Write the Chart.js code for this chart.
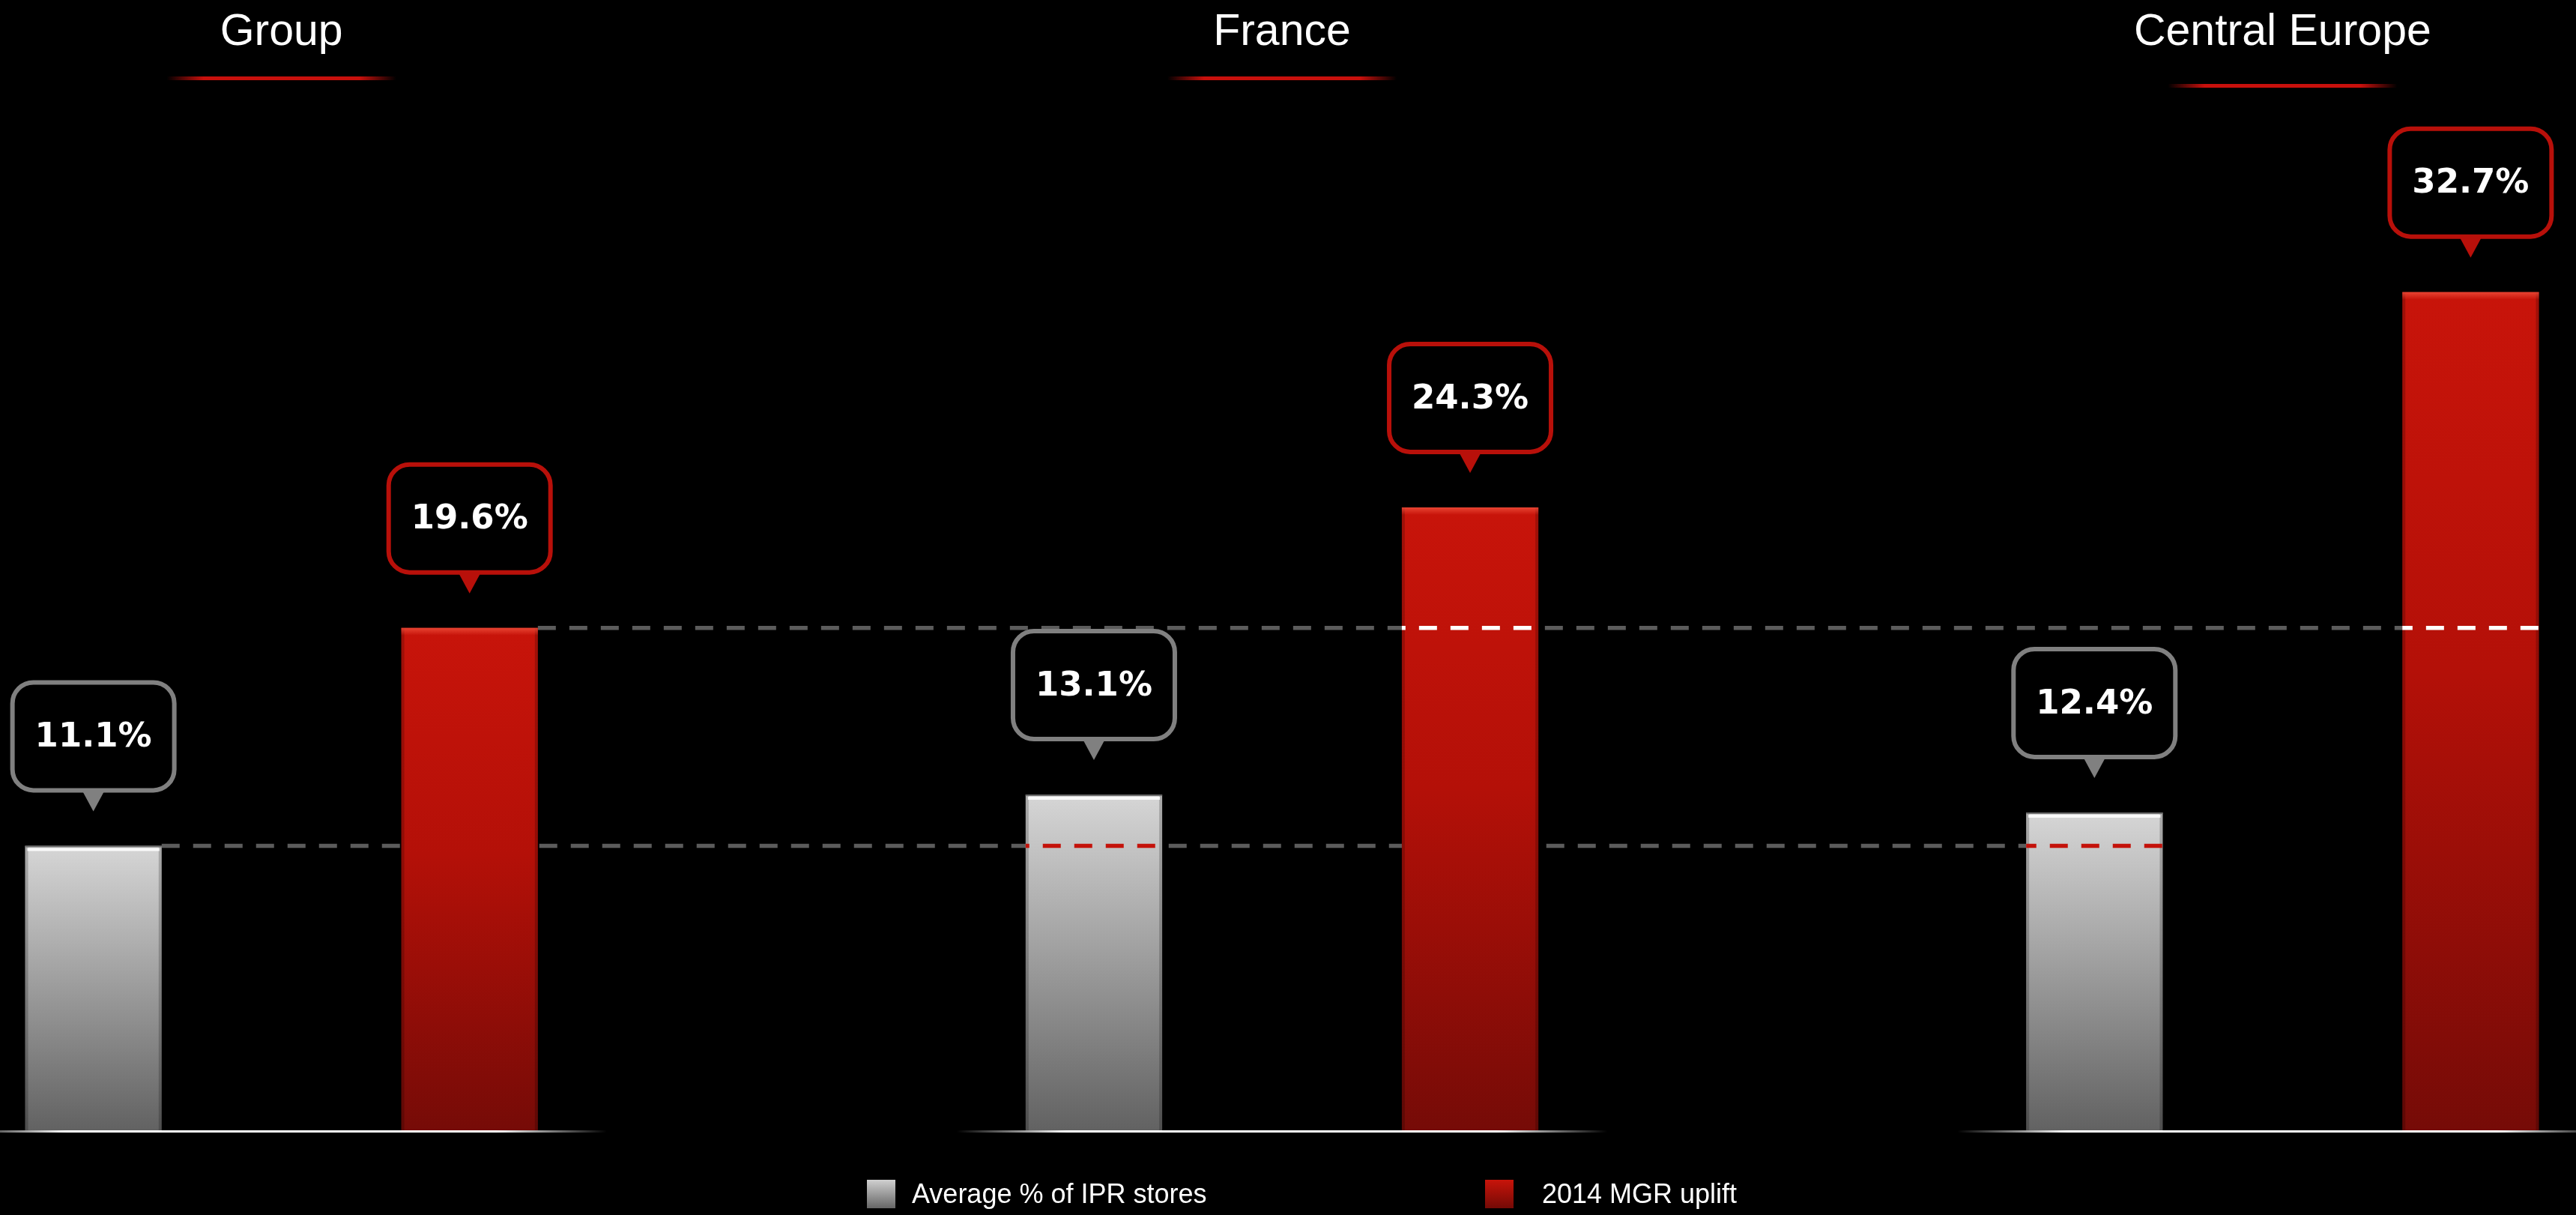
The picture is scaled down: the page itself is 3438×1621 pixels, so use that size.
<!DOCTYPE html>
<html>
<head>
<meta charset="utf-8">
<title>2014 MGR uplift</title>
<script src="https://cdn.jsdelivr.net/npm/chart.js@4.4.1/dist/chart.umd.min.js"></script>
<style>
  html, body { margin: 0; padding: 0; background: #000; overflow: hidden; }
  body { width: 3438px; height: 1621px; position: relative; }
  #chart { position: absolute; left: -292px; top: 0; }
  .legend-item { position: absolute; top: 1574px; display: flex; align-items: center; color: #fff;
    font-family: "Liberation Sans", Arial, sans-serif; font-size: 36px; line-height: 38px; white-space: nowrap; }
  .legend-box { width: 38px; height: 38px; display: inline-block; }
</style>
</head>
<body>
<canvas id="chart" width="4006" height="1621"></canvas>
<div id="legend"></div>
<script>
const regions = ["Group", "France", "Central Europe"]
const iprStores = [11.1, 13.1, 12.4]
const mgrUplift = [19.6, 24.3, 32.7]
const seriesNames = ["Average % of IPR stores", "2014 MGR uplift"]

// colours
const greyStops = [[0, "#d6d6d6"], [1, "#626262"]]
const redStops = [[0, "#c8140a"], [0.45, "#b41008"], [1, "#760b07"]]
const calloutColors = ["#808080", "#b8100a"]
const refOverlay = ["#c4120a", "#ffffff"]

function barGradient(stops){
  return function(c){
    const chart = c.chart
    const area = chart.chartArea
    if(!area) return stops[0][1]
    const top = chart.scales.y.getPixelForValue(c.raw)
    const g = chart.ctx.createLinearGradient(0, top, 0, area.bottom)
    stops.forEach(s => g.addColorStop(s[0], s[1]))
    return g
  }
}

function dashLine(ctx, x0, x1, y, color){
  ctx.save()
  ctx.strokeStyle = color
  ctx.lineWidth = 5.5
  ctx.setLineDash([24, 18])
  ctx.beginPath()
  ctx.moveTo(x0, y)
  ctx.lineTo(x1, y)
  ctx.stroke()
  ctx.restore()
}

// dashed level of a series' first value, from its first bar to its last
function refSpan(chart, i){
  const bars = chart.getDatasetMeta(i).data
  const first = bars[0], last = bars[bars.length - 1]
  return {
    x0: first.x + first.width / 2,
    x1: last.x + last.width / 2,
    y: chart.scales.y.getPixelForValue(chart.data.datasets[i].data[0])
  }
}

function callout(ctx, cx, tipY, text, color){
  const w = 216, h = 144, r = 28, ph = 25, pw = 28
  const bottom = tipY - ph - 3
  const top = bottom - h
  ctx.save()
  ctx.beginPath()
  ctx.roundRect(cx - w / 2, top, w, h, r)
  ctx.fillStyle = "#000"
  ctx.fill()
  ctx.lineWidth = 6
  ctx.strokeStyle = color
  ctx.stroke()
  ctx.beginPath()
  ctx.moveTo(cx - pw / 2, bottom + 2)
  ctx.lineTo(cx + pw / 2, bottom + 2)
  ctx.lineTo(cx, tipY)
  ctx.closePath()
  ctx.fillStyle = color
  ctx.fill()
  ctx.fillStyle = "#fff"
  ctx.font = "bold 45px 'DejaVu Sans', sans-serif"
  ctx.textAlign = "center"
  ctx.textBaseline = "middle"
  ctx.fillText(text, cx, top + h / 2 + 2)
  ctx.restore()
}

const decorations = {
  id: "decorations",
  beforeDatasetsDraw(chart){
    const ctx = chart.ctx
    chart.data.datasets.forEach((ds, i) => {
      const s = refSpan(chart, i)
      dashLine(ctx, s.x0, s.x1, s.y, "#5c5c5c")
    })
  },
  afterDatasetsDraw(chart){
    const ctx = chart.ctx
    const area = chart.chartArea
    const xs = chart.scales.x

    // bevel on each bar
    chart.data.datasets.forEach((ds, i) => {
      chart.getDatasetMeta(i).data.forEach(bar => {
        const left = bar.x - bar.width / 2
        ctx.save()
        ctx.fillStyle = "rgba(0,0,0,0.2)"
        ctx.fillRect(left, bar.y, 4, bar.base - bar.y)
        ctx.fillRect(left + bar.width - 4, bar.y, 4, bar.base - bar.y)
        if(i === 0){
          ctx.fillStyle = "#6a6a6a"
          ctx.fillRect(left, bar.y, bar.width, 2)
          ctx.fillStyle = "rgba(255,255,255,0.85)"
          ctx.fillRect(left + 3, bar.y + 3, bar.width - 6, 4)
        } else {
          const g = ctx.createLinearGradient(0, bar.y, 0, bar.y + 10)
          g.addColorStop(0, "rgba(240,80,60,0.8)")
          g.addColorStop(1, "rgba(240,80,60,0)")
          ctx.fillStyle = g
          ctx.fillRect(left, bar.y, bar.width, 10)
        }
        ctx.restore()
      })
    })

    // reference dashes show through the series' own bars
    chart.data.datasets.forEach((ds, i) => {
      const s = refSpan(chart, i)
      const bars = chart.getDatasetMeta(i).data
      bars.slice(1).forEach(bar => {
        ctx.save()
        ctx.beginPath()
        ctx.rect(bar.x - bar.width / 2, bar.y, bar.width, bar.base - bar.y)
        ctx.clip()
        dashLine(ctx, s.x0, s.x1, s.y, refOverlay[i])
        ctx.restore()
      })
    })

    // baseline under each region
    const catW = area.width / regions.length
    regions.forEach((r, i) => {
      const cx = xs.getPixelForValue(i)
      const half = catW * 0.325
      const g = ctx.createLinearGradient(cx - half, 0, cx + half, 0)
      g.addColorStop(0, "rgba(255,255,255,0)")
      g.addColorStop(0.17, "#ffffff")
      g.addColorStop(0.83, "#ffffff")
      g.addColorStop(1, "rgba(255,255,255,0)")
      ctx.fillStyle = g
      ctx.fillRect(cx - half, area.bottom, half * 2, 3)
    })

    // value callouts
    chart.data.datasets.forEach((ds, i) => {
      chart.getDatasetMeta(i).data.forEach((bar, j) => {
        callout(ctx, bar.x, bar.y - 46, ds.data[j].toFixed(1) + "%", calloutColors[i])
      })
    })
  },
  afterDraw(chart){
    // red rule under each region title
    const ctx = chart.ctx
    const xs = chart.scales.x
    const drop = [0, 0, 10]
    regions.forEach((r, i) => {
      const cx = xs.getPixelForValue(i)
      const y = 102 + drop[i]
      const g = ctx.createLinearGradient(cx - 153, 0, cx + 153, 0)
      g.addColorStop(0, "rgba(200,16,12,0)")
      g.addColorStop(0.16, "#c8100c")
      g.addColorStop(0.84, "#c8100c")
      g.addColorStop(1, "rgba(200,16,12,0)")
      ctx.fillStyle = g
      ctx.fillRect(cx - 153, y, 306, 5)
    })
  }
}

const chart = new Chart("chart", {
  type: "bar",
  data: {
    labels: regions,
    datasets: [{
      label: seriesNames[0],
      data: iprStores,
      backgroundColor: barGradient(greyStops),
      barPercentage: 0.363,
      categoryPercentage: 0.752
    },{
      label: seriesNames[1],
      data: mgrUplift,
      backgroundColor: barGradient(redStops),
      barPercentage: 0.363,
      categoryPercentage: 0.752
    }]
  },
  options: {
    responsive: false,
    animation: false,
    devicePixelRatio: 1,
    layout: { padding: { top: 0, bottom: 113, left: 0, right: 0 } },
    plugins: { legend: { display: false }, tooltip: { enabled: false } },
    scales: {
      x: {
        position: "top",
        grid: { display: false, drawTicks: false },
        border: { display: false },
        ticks: {
          color: "#ffffff",
          padding: 61,
          font: { family: "'Liberation Sans', Arial, sans-serif", size: 59 }
        },
        afterFit(scale){ scale.height = 140 }
      },
      y: { display: false, min: 0, max: 40 }
    }
  },
  plugins: [decorations]
})

// legend
const legendLeft = [1157, 1982]
const legendGap = [22, 38]
const swatches = [
  "linear-gradient(#d0d0d0, #666666)",
  "linear-gradient(#c8140a, #740a06)"
]
const legend = document.getElementById("legend")
seriesNames.forEach((name, i) => {
  const item = document.createElement("div")
  item.className = "legend-item"
  item.style.left = legendLeft[i] + "px"
  const box = document.createElement("span")
  box.className = "legend-box"
  box.style.backgroundImage = swatches[i]
  box.style.marginRight = legendGap[i] + "px"
  const label = document.createElement("span")
  label.textContent = name
  item.appendChild(box)
  item.appendChild(label)
  legend.appendChild(item)
})
</script>
</body>
</html>
